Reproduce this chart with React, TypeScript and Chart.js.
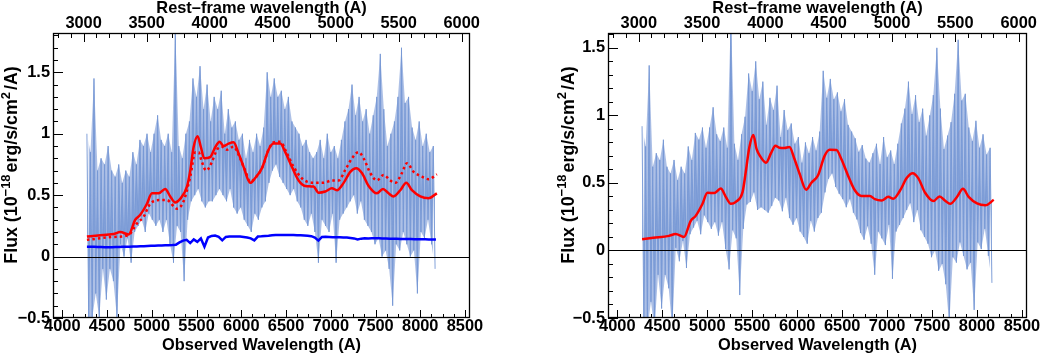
import { useEffect, useRef } from "react";
import { Chart, registerables } from "chart.js";

Chart.register(...registerables);

// ---------------- data ----------------
// spectrum sampled on a regular observed-wavelength grid (Å):
// in every bin the spectrum swings from its high value to its low value
const SPEC_START = 4275;
const SPEC_STEP = 39.5;
const BLUE_START = 4275;
const BLUE_STEP = 39.8;

// left panel: high / low value of the noisy spectrum in each bin
const specHiL = [
  1.0, 0.85, 1.45, 0.7, 0.8, 0.75, 0.9, 0.7, 0.65, 0.75,
  0.6, 0.7, 0.65, 0.85, 0.75, 0.95, 0.9, 1.0, 0.85, 1.0,
  1.15, 0.95, 0.9, 1.0, 0.85, 1.85, 0.9, 0.8, 1.0, 1.1,
  1.45, 1.3, 1.55, 1.2, 1.4, 1.1, 1.3, 1.2, 1.35, 1.0,
  1.2, 1.05, 1.1, 0.95, 1.0, 0.8, 0.95, 0.85, 1.0, 0.9,
  1.05, 1.5, 1.3, 1.45, 1.3, 1.35, 1.2, 1.3, 1.1, 1.05,
  1.0, 0.9, 0.95, 0.85, 0.8, 0.85, 0.95, 0.8, 1.0, 0.85,
  0.9, 0.8, 0.95, 1.1, 1.2, 1.4, 1.15, 1.3, 1.1, 1.2,
  1.0, 1.15, 1.3, 1.65, 1.2, 0.9, 1.0, 1.1, 1.3, 1.7,
  1.25, 1.3, 1.05, 0.95, 1.1, 0.9, 1.0, 0.85, 0.9,
];
const specLoL = [
  -0.5, -0.5, -0.3, -0.5, -0.1, -0.35, -0.1, -0.2, -0.5, 0.1,
  0.0, 0.15, -0.05, 0.2, 0.25, 0.3, 0.2, 0.35, 0.3, 0.25,
  0.3, 0.2, 0.3, 0.1, -0.05, 0.25, 0.2, -0.2, 0.3, 0.45,
  0.5, 0.55, 0.45, 0.4, 0.45, 0.45, 0.5, 0.55, 0.5, 0.45,
  0.55, 0.4, 0.35, 0.4, 0.3, 0.25, 0.2, 0.35, 0.3, 0.4,
  0.45, 0.6, 0.7, 0.75, 0.65, 0.6, 0.55, 0.5, 0.55, 0.45,
  0.4, 0.3, 0.25, 0.35, 0.2, -0.05, 0.3, 0.25, 0.2, 0.35,
  -0.05, 0.3, 0.35, 0.4, 0.45, 0.5, 0.35, 0.45, 0.3, 0.25,
  0.2, 0.1, 0.15, 0.0, 0.05, -0.1, -0.4, 0.1, 0.05, 0.2,
  0.1, 0.0, 0.05, -0.3, 0.2, 0.15, 0.3, 0.1, -0.1,
];
// left panel: blue component
const blueFlux = [
  0.08, 0.08, 0.079, 0.078, 0.077, 0.076, 0.076, 0.076, 0.077, 0.078,
  0.079, 0.08, 0.081, 0.082, 0.083, 0.084, 0.085, 0.087, 0.088, 0.089,
  0.09, 0.091, 0.092, 0.093, 0.094, 0.097, 0.115, 0.13, 0.136, 0.11,
  0.14, 0.12, 0.148, 0.08, 0.155, 0.168, 0.171, 0.16, 0.132, 0.16,
  0.163, 0.164, 0.164, 0.163, 0.16, 0.155, 0.148, 0.132, 0.163, 0.165,
  0.168, 0.17, 0.174, 0.176, 0.176, 0.176, 0.175, 0.176, 0.175, 0.174,
  0.173, 0.172, 0.17, 0.166, 0.155, 0.13, 0.16, 0.162, 0.16, 0.158,
  0.157, 0.157, 0.156, 0.156, 0.152, 0.148, 0.14, 0.146, 0.15, 0.148,
  0.15, 0.149, 0.15, 0.148, 0.147, 0.146, 0.145, 0.145, 0.144, 0.144,
  0.143, 0.143, 0.142, 0.142, 0.141, 0.141, 0.14, 0.14, 0.14,
];
// right panel: high / low value of the noisy spectrum in each bin
const specHiR = [
  0.92, 0.77, 1.37, 0.62, 0.72, 0.67, 0.82, 0.62, 0.57, 0.67,
  0.52, 0.62, 0.57, 0.77, 0.67, 0.87, 0.82, 0.91, 0.76, 0.91,
  1.06, 0.86, 0.81, 0.91, 0.76, 1.75, 0.79, 0.67, 0.86, 0.99,
  1.31, 1.18, 1.4, 1.12, 1.25, 0.93, 1.13, 1.04, 1.22, 0.84,
  1.04, 0.89, 0.94, 0.79, 0.84, 0.65, 0.8, 0.72, 0.84, 0.74,
  0.88, 1.33, 1.13, 1.27, 1.12, 1.17, 1.03, 1.12, 0.93, 0.88,
  0.83, 0.73, 0.78, 0.68, 0.65, 0.72, 0.79, 0.64, 0.84, 0.69,
  0.74, 0.64, 0.79, 0.94, 1.05, 1.25, 1.01, 1.15, 0.95, 1.05,
  0.85, 1.0, 1.15, 1.5, 1.05, 0.75, 0.85, 0.95, 1.16, 1.56,
  1.11, 1.16, 0.91, 0.81, 0.96, 0.76, 0.86, 0.71, 0.76,
];
const specLoR = [
  -0.58, -0.58, -0.38, -0.58, -0.18, -0.43, -0.18, -0.28, -0.58, 0.02,
  -0.08, 0.07, -0.13, 0.12, 0.17, 0.22, 0.12, 0.26, 0.21, 0.16,
  0.21, 0.11, 0.21, 0.01, -0.14, 0.15, 0.09, -0.33, 0.16, 0.34,
  0.36, 0.43, 0.3, 0.32, 0.3, 0.28, 0.33, 0.39, 0.37, 0.29,
  0.39, 0.24, 0.19, 0.24, 0.14, 0.1, 0.05, 0.22, 0.14, 0.24,
  0.28, 0.43, 0.53, 0.57, 0.47, 0.42, 0.38, 0.32, 0.38, 0.28,
  0.23, 0.13, 0.08, 0.18, 0.05, -0.18, 0.14, 0.09, 0.04, 0.19,
  -0.21, 0.14, 0.19, 0.24, 0.3, 0.35, 0.21, 0.3, 0.15, 0.1,
  0.05, -0.05, 0.0, -0.15, -0.1, -0.25, -0.55, -0.05, -0.09, 0.06,
  -0.04, -0.14, -0.09, -0.44, 0.06, 0.01, 0.16, -0.04, -0.24,
];

// smooth red model curves
const redWave = [
  4275, 4400, 4573, 4648, 4741, 4815, 4871, 4946, 5002, 5076,
  5150, 5206, 5262, 5318, 5393, 5430, 5467, 5512, 5549, 5586,
  5653, 5709, 5758, 5802, 5858, 5914, 5970, 6026, 6100, 6156,
  6231, 6305, 6361, 6436, 6492, 6566, 6641, 6715, 6808, 6864,
  6939, 7013, 7069, 7144, 7218, 7285, 7348, 7423, 7516, 7583,
  7646, 7702, 7777, 7844, 7907, 8000, 8093, 8186,
];
const redFluxL = [
  0.163, 0.172, 0.184, 0.2, 0.18, 0.3, 0.34, 0.43, 0.515, 0.515,
  0.55, 0.49, 0.44, 0.47, 0.57, 0.7, 0.89, 0.98, 0.89, 0.8,
  0.81, 0.89, 0.935, 0.9, 0.92, 0.93, 0.84, 0.73, 0.6, 0.64,
  0.72, 0.87, 0.92, 0.92, 0.85, 0.73, 0.62, 0.575, 0.57, 0.52,
  0.53, 0.556, 0.54, 0.6, 0.69, 0.72, 0.68, 0.575, 0.515, 0.55,
  0.515, 0.49, 0.54, 0.6, 0.54, 0.49, 0.475, 0.515,
];
const redFluxR = [
  0.083, 0.094, 0.108, 0.122, 0.1, 0.218, 0.256, 0.344, 0.427, 0.425,
  0.458, 0.397, 0.345, 0.36, 0.434, 0.59, 0.76, 0.855, 0.75, 0.7,
  0.65, 0.72, 0.775, 0.76, 0.758, 0.766, 0.677, 0.57, 0.45, 0.5,
  0.555, 0.7, 0.745, 0.744, 0.675, 0.554, 0.446, 0.404, 0.404, 0.38,
  0.37, 0.397, 0.383, 0.444, 0.536, 0.572, 0.534, 0.427, 0.366, 0.4,
  0.368, 0.345, 0.396, 0.456, 0.397, 0.348, 0.334, 0.375,
];
// dotted red model (left panel)
const dotWave = [
  4275, 4573, 4741, 4834, 4909, 4983, 5095, 5169, 5281, 5355,
  5430, 5486, 5523, 5560, 5609, 5672, 5728, 5784, 5840, 5914,
  5981, 6044, 6100, 6156, 6231, 6305, 6361, 6436, 6510, 6585,
  6660, 6734, 6846, 6920, 7013, 7088, 7162, 7237, 7311, 7367,
  7442, 7516, 7590, 7665, 7721, 7795, 7851, 7926, 8019, 8093,
  8186,
];
const dotFlux = [
  0.136, 0.16, 0.176, 0.27, 0.325, 0.43, 0.46, 0.46, 0.39, 0.45,
  0.65, 0.85, 0.85, 0.77, 0.7, 0.77, 0.87, 0.895, 0.87, 0.895,
  0.81, 0.7, 0.61, 0.64, 0.72, 0.87, 0.93, 0.935, 0.84, 0.73,
  0.65, 0.61, 0.6, 0.6, 0.62, 0.62, 0.705, 0.8, 0.85, 0.8,
  0.68, 0.62, 0.665, 0.62, 0.6, 0.68, 0.76, 0.69, 0.65, 0.63,
  0.67,
];

// axis tick labels
const obsMajor = [4000, 4500, 5000, 5500, 6000, 6500, 7000, 7500, 8000, 8500];
const restMajor = [3000, 3500, 4000, 4500, 5000, 5500, 6000];
const fluxMajor = [-0.5, 0, 0.5, 1, 1.5];

// ---------------- style ----------------
const OBS_MIN = 3896;
const OBS_MAX = 8556;
const REST_MIN = 2757;
const REST_MAX = 6066;
const FLUX_MIN = -0.5;
const FLUX_MAX_L = 1.82;
const FLUX_MAX_R = 1.61;
const OBS_MINOR = 125;
const REST_MINOR = 100;
const FLUX_MINOR = 0.1;

const FAMILY = "'Liberation Sans', Arial, Helvetica, sans-serif";
const FONT = { family: FAMILY, size: 16.4, weight: "bold" as const, lineHeight: 1 };
const SPEC_LINE = "rgb(118,151,213)";
const SPEC_ENV = "rgba(122,154,214,0.62)";
const SPEC_CORE = "rgba(120,152,213,0.8)";

function drawYTitle(ctx: CanvasRenderingContext2D, cx: number, cy: number) {
  const segs: [string, boolean][] = [
    ["Flux (10", false],
    ["\u221218", true],
    ["erg/s/cm", false],
    ["2", true],
    ["/A)", false],
  ];
  const big = `bold 17.8px ${FAMILY}`;
  const small = `bold 13px ${FAMILY}`;
  ctx.save();
  ctx.translate(cx, cy);
  ctx.rotate(-Math.PI / 2);
  ctx.fillStyle = "#000";
  ctx.textBaseline = "middle";
  ctx.textAlign = "left";
  let total = 0;
  const widths = segs.map(([t, sup]) => {
    ctx.font = sup ? small : big;
    const w = ctx.measureText(t).width + (sup ? 2 : 0);
    total += w;
    return w;
  });
  let x = -total / 2;
  segs.forEach(([t, sup], i) => {
    ctx.font = sup ? small : big;
    ctx.fillText(t, x, sup ? -6.5 : 0);
    x += widths[i];
  });
  ctx.restore();
}

const framePlugin = {
  id: "frame",
  afterDatasetsDraw(chart: any, _args: any, opts: any) {
    const { ctx, chartArea: a } = chart;
    const sx = chart.scales.x;
    const st = chart.scales.xTop;
    const sy = chart.scales.y;
    ctx.save();
    ctx.strokeStyle = "#000";
    ctx.lineWidth = 1;
    const seg = (x1: number, y1: number, x2: number, y2: number) => {
      ctx.beginPath();
      ctx.moveTo(x1, y1);
      ctx.lineTo(x2, y2);
      ctx.stroke();
    };
    // zero line
    const y0 = Math.round(sy.getPixelForValue(0)) + 0.5;
    seg(a.left, y0, a.right, y0);
    // bottom ticks (inward)
    for (let k = Math.ceil(sx.min / OBS_MINOR); k * OBS_MINOR <= sx.max; k++) {
      const v = k * OBS_MINOR;
      const p = Math.round(sx.getPixelForValue(v)) + 0.5;
      const len = v % 500 === 0 ? 8 : 4;
      seg(p, a.bottom, p, a.bottom - len);
    }
    // top ticks (inward)
    for (let k = Math.ceil(st.min / REST_MINOR); k * REST_MINOR <= st.max; k++) {
      const v = k * REST_MINOR;
      const p = Math.round(st.getPixelForValue(v)) + 0.5;
      const len = v % 500 === 0 ? 9 : 5;
      seg(p, a.top, p, a.top + len);
    }
    // left ticks (inward)
    for (let k = Math.ceil(sy.min / FLUX_MINOR - 1e-6); k * FLUX_MINOR <= sy.max + 1e-6; k++) {
      const v = k * FLUX_MINOR;
      const p = Math.round(sy.getPixelForValue(v)) + 0.5;
      const len = k % 5 === 0 ? 10 : 5;
      seg(a.left, p, a.left + len, p);
    }
    ctx.lineWidth = 1.3;
    ctx.strokeRect(
      Math.round(a.left) + 0.5,
      Math.round(a.top) + 0.5,
      Math.round(a.right - a.left) - 1,
      Math.round(a.bottom - a.top) - 1
    );
    ctx.restore();
    drawYTitle(ctx, opts.titleX, opts.titleY);
  },
};

// each bin contributes its high value, then its low value half a bin later
function hiPoints(hi: number[]) {
  return hi.map((y, i) => ({ x: SPEC_START + i * SPEC_STEP, y }));
}
function loPoints(lo: number[]) {
  return lo.map((y, i) => ({ x: SPEC_START + i * SPEC_STEP + SPEC_STEP / 2, y }));
}
function swingPoints(hi: number[], lo: number[]) {
  const h = hiPoints(hi);
  const l = loPoints(lo);
  const pts: { x: number; y: number }[] = [];
  h.forEach((p, i) => {
    pts.push(p);
    pts.push(l[i]);
  });
  return pts;
}
function bluePoints(arr: number[]) {
  return arr.map((y, i) => ({ x: BLUE_START + i * BLUE_STEP, y }));
}
function xyPoints(xs: number[], ys: number[]) {
  return xs.map((x, i) => ({ x, y: ys[i] }));
}

function buildConfig(isLeft: boolean): any {
  const hi = isLeft ? specHiL : specHiR;
  const lo = isLeft ? specLoL : specLoR;
  const redIndex = isLeft ? 5 : 3;
  const datasets: any[] = [
    {
      // envelope of the spectrum (upper edge), filled to the lower edge
      data: hiPoints(hi),
      borderWidth: 0,
      borderColor: "rgba(0,0,0,0)",
      backgroundColor: SPEC_ENV,
      pointRadius: 0,
      fill: "+1",
      tension: 0,
      order: 12,
    },
    {
      data: loPoints(lo),
      borderWidth: 0,
      borderColor: "rgba(0,0,0,0)",
      pointRadius: 0,
      fill: false,
      tension: 0,
      order: 11,
    },
    {
      // the spectrum itself
      data: swingPoints(hi, lo),
      borderColor: SPEC_LINE,
      backgroundColor: SPEC_CORE,
      borderWidth: 0.9,
      pointRadius: 0,
      fill: { target: redIndex },
      tension: 0,
      order: 10,
    },
  ];
  if (isLeft) {
    datasets.push({
      data: bluePoints(blueFlux),
      borderColor: "#0000ff",
      borderWidth: 2.5,
      pointRadius: 0,
      fill: false,
      tension: 0,
      order: 3,
    });
    datasets.push({
      data: xyPoints(dotWave, dotFlux),
      borderColor: "#ff0000",
      borderWidth: 2.5,
      borderDash: [2.5, 3],
      pointRadius: 0,
      fill: false,
      cubicInterpolationMode: "monotone",
      order: 2,
    });
  }
  datasets.push({
    data: xyPoints(redWave, isLeft ? redFluxL : redFluxR),
    borderColor: "#ff0000",
    borderWidth: 2.5,
    pointRadius: 0,
    fill: false,
    cubicInterpolationMode: "monotone",
    order: 1,
  });

  const baseTicks = { font: FONT, color: "#000", maxRotation: 0, minRotation: 0, autoSkip: false };

  return {
    type: "line",
    data: { datasets },
    plugins: [framePlugin],
    options: {
      responsive: false,
      animation: false,
      devicePixelRatio: 1,
      layout: { padding: { left: 0, right: isLeft ? 50 : 14, top: 0, bottom: 0 } },
      plugins: {
        legend: { display: false },
        tooltip: { enabled: false },
        frame: { titleX: isLeft ? 12.5 : 49, titleY: 165 },
      },
      scales: {
        x: {
          type: "linear",
          position: "bottom",
          min: OBS_MIN,
          max: OBS_MAX,
          afterBuildTicks: (s: any) => {
            s.ticks = obsMajor.map((value) => ({ value }));
          },
          afterFit: (s: any) => {
            s.height = 36;
          },
          grid: { display: false, drawTicks: false },
          border: { display: false },
          ticks: { ...baseTicks, padding: 0, callback: (v: number) => String(v) },
          title: { display: true, text: "Observed Wavelength (A)", font: FONT, color: "#000", padding: 0 },
        },
        xTop: {
          type: "linear",
          position: "top",
          min: REST_MIN,
          max: REST_MAX,
          afterBuildTicks: (s: any) => {
            s.ticks = restMajor.map((value) => ({ value }));
          },
          afterFit: (s: any) => {
            s.height = 33;
          },
          grid: { display: false, drawTicks: false },
          border: { display: false },
          ticks: { ...baseTicks, padding: 1, callback: (v: number) => String(v) },
          title: { display: true, text: "Rest\u2013frame wavelength (A)", font: FONT, color: "#000", padding: 0 },
        },
        y: {
          type: "linear",
          position: "left",
          min: FLUX_MIN,
          max: isLeft ? FLUX_MAX_L : FLUX_MAX_R,
          afterBuildTicks: (s: any) => {
            s.ticks = fluxMajor.map((value) => ({ value }));
          },
          afterFit: (s: any) => {
            s.width = isLeft ? 53 : 88;
          },
          grid: { display: false, drawTicks: false },
          border: { display: false },
          ticks: {
            ...baseTicks,
            padding: 3,
            callback: (v: number) => (v < 0 ? "\u2212" + String(Math.abs(v)) : String(v)),
          },
        },
      },
    },
  };
}

export default function App() {
  const leftRef = useRef<HTMLCanvasElement>(null);
  const rightRef = useRef<HTMLCanvasElement>(null);
  useEffect(() => {
    const c1 = new Chart(leftRef.current as HTMLCanvasElement, buildConfig(true));
    const c2 = new Chart(rightRef.current as HTMLCanvasElement, buildConfig(false));
    return () => {
      c1.destroy();
      c2.destroy();
    };
  }, []);
  return (
    <div style={{ position: "absolute", left: 0, top: 0, width: 1041, height: 354, background: "#fff" }}>
      <canvas ref={leftRef} width={520} height={354} style={{ position: "absolute", left: 0, top: 0 }} />
      <canvas ref={rightRef} width={521} height={354} style={{ position: "absolute", left: 520, top: 0 }} />
    </div>
  );
}
